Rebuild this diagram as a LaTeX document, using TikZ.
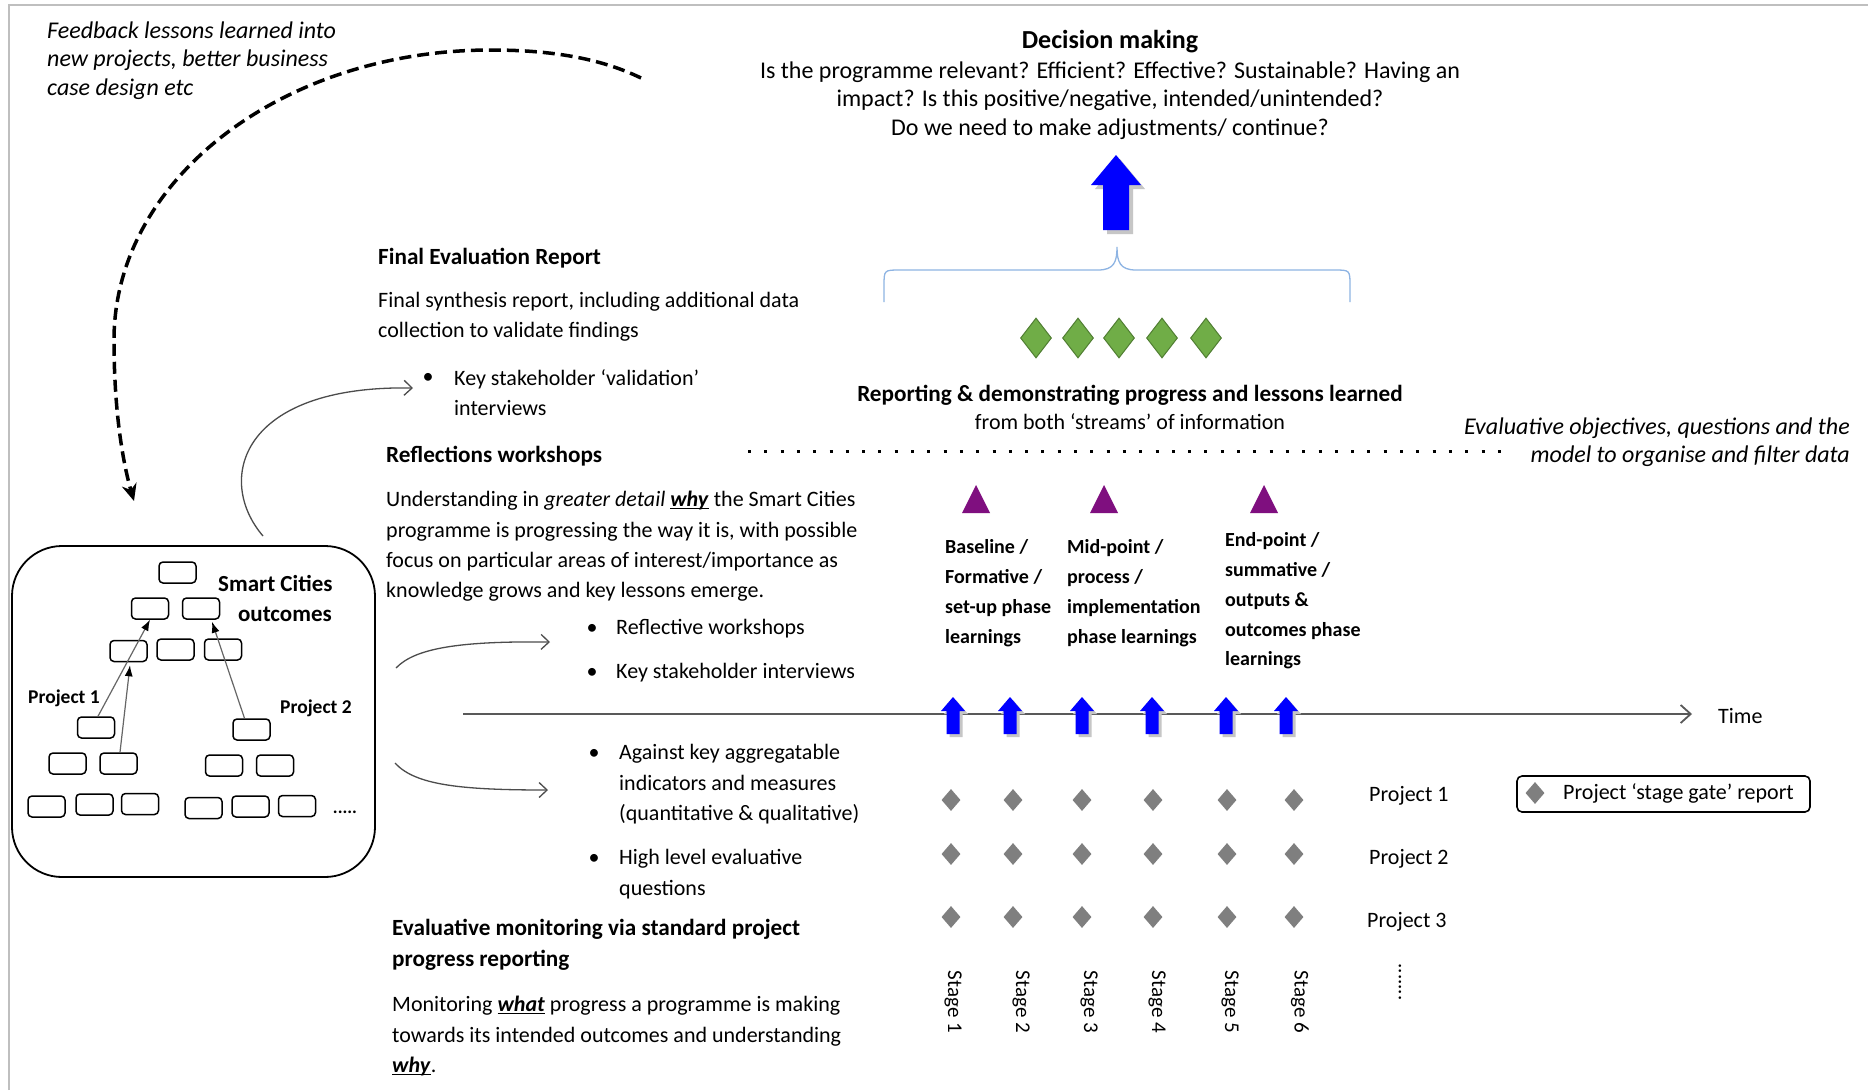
\documentclass[tikz,border=0pt]{standalone}
\usepackage{fontspec}
\setmainfont{Carlito}
\usetikzlibrary{arrows.meta,shapes.geometric,calc}
\definecolor{purp}{HTML}{7F0F7F}
\definecolor{gfill}{HTML}{70AD47}
\definecolor{gline}{HTML}{507E32}
\definecolor{brc}{HTML}{8EB4E3}
\definecolor{dgray}{HTML}{7F7F7F}
\definecolor{framecol}{HTML}{BFBFBF}
\newcommand\fsb{\fontsize{22}{30.5}\selectfont}
\newcommand\fshd{\fontsize{23.2}{31}\selectfont}
\newcommand\myul[1]{\setbox0\hbox{#1}\rlap{\rule[-2.5pt]{\wd0}{1.4pt}}\box0\relax}
\tikzset{
  txt/.style={inner sep=0pt, anchor=west, align=left, font=\fsb},
  hd/.style={inner sep=0pt, anchor=west, align=left, font=\bfseries\fshd},
  ph/.style={inner sep=0pt, anchor=west, align=left, font=\bfseries\fontsize{20}{29.8}\selectfont},
  sr/.style={draw, rounded corners=4pt, line width=1.5pt, minimum width=37pt, minimum height=21pt, inner sep=0pt},
  gdm/.style={diamond, fill=dgray, minimum width=19pt, minimum height=22pt, inner sep=0pt},
  grn/.style={diamond, fill=gfill, draw=gline, line width=1pt, minimum width=31pt, minimum height=40pt, inner sep=0pt},
  inarr/.style={draw=gray!80!black, line width=1.2pt, -{Latex[length=11pt,width=8pt,color=black]}},
  curv/.style={draw=black!70, line width=1.3pt, -{Straight Barb[length=8pt,width=15pt]}},
  bul/.style={inner sep=0pt, font=\fsb},
  stg/.style={inner sep=0pt, rotate=-90, font=\fontsize{21}{25}\selectfont},
}
\begin{document}
\begin{tikzpicture}[x=1pt,y=-1pt]
\useasboundingbox (0,0) rectangle (1868,1090);
\fill[white] (0,0) rectangle (1868,1090);
\draw[framecol, line width=2.5pt] (9,1090) -- (9,5) -- (1868,5);

% feedback text and dashed arc
\node[txt, font=\itshape\fontsize{24}{28.5}\selectfont] (feedback) at (47,60.5) {Feedback lessons learned into\\new projects, better business\\case design etc};
\coordinate (arcs) at (641,78);
\coordinate (arce) at (134,501);
\draw[line width=3.5pt, dash pattern=on 12pt off 6pt, -{Stealth[length=17pt,width=15pt]}] (arcs) .. controls (600,58) and (550,50) .. (491,50) .. controls (283,50) and (114,179) .. (114,340) .. controls (114,420) and (125,470) .. (arce);

% decision making
\node[inner sep=0pt, font=\bfseries\fontsize{26}{30}\selectfont] (dm) at (1110,42) {Decision making};
\node[inner sep=0pt, align=center, font=\fontsize{24}{28.5}\selectfont] (dq) at (1110,100.5) {Is the programme relevant? Efficient? Effective? Sustainable? Having an\\impact? Is this positive/negative, intended/unintended?\\Do we need to make adjustments/ continue?};

% big blue arrow
\fill[gray!45] (1120,159) -- (1145,189) -- (1133,189) -- (1133,234) -- (1107,234) -- (1107,189) -- (1095,189) -- cycle;
\fill[blue] (1116,155) -- (1141,185) -- (1129,185) -- (1129,230) -- (1103,230) -- (1103,185) -- (1091,185) -- cycle;

% brace
\draw[brc, line width=1.3pt] (884,302) -- (884,286) .. controls (884,270) .. (900,270) -- (1098,270) .. controls (1114,270) and (1117,262) .. (1117,247) .. controls (1117,262) and (1120,270) .. (1136,270) -- (1334,270) .. controls (1350,270) .. (1350,286) -- (1350,302);

% green diamonds
\foreach \x [count=\i] in {1036,1078,1119,1162,1206} { \node[grn] (gd\i) at (\x,338) {}; }

\node[inner sep=0pt, font=\bfseries\fshd] (rep) at (1130,395) {Reporting \& demonstrating progress and lessons learned};
\node[inner sep=0pt, font=\fsb] (rep2) at (1130,422) {from both ‘streams’ of information};

% dotted line
\draw[line width=3pt, dash pattern=on 3pt off 13.3pt] (748,451) -- (1507,451);
\node[inner sep=0pt, anchor=east, align=right, font=\itshape\fontsize{24}{28.5}\selectfont] (evo) at (1850,442) {Evaluative objectives, questions and the\\model to organise and filter data};

% purple triangles
\foreach \x in {976,1104,1264} { \fill[purp] (\x,485) -- (\x+14,513) -- (\x-14,513) -- cycle; }

% phase labels
\node[ph] (ph1) at (945,593) {Baseline /\\Formative /\\set-up phase\\learnings};
\node[ph] (ph2) at (1067,593) {Mid-point /\\process /\\implementation\\phase learnings};
\node[ph] (ph3) at (1225,601) {End-point /\\summative /\\outputs \&\\outcomes phase\\learnings};

% time axis
\coordinate (tl) at (463,714);
\coordinate (tr) at (1692,714);
\draw[gray!70!black, line width=1.8pt, -{Straight Barb[length=10pt,width=18pt]}] (tl) -- (tr);
\node[txt] (time) at (1718,716) {Time};

% small blue arrows
\foreach \x in {953,1010,1082,1152,1226,1286} {
  \fill[gray!45] (\x+3,700) -- (\x+15,714) -- (\x+9.5,714) -- (\x+9.5,737) -- (\x-3.5,737) -- (\x-3.5,714) -- (\x-9,714) -- cycle;
  \fill[blue] (\x,697) -- (\x+12,711) -- (\x+6.5,711) -- (\x+6.5,734) -- (\x-6.5,734) -- (\x-6.5,711) -- (\x-12,711) -- cycle;
}

% gray diamonds grid
\foreach \x [count=\i] in {951,1013,1082,1153,1227,1294} {
  \node[gdm] (pa\i) at (\x,800) {};
  \node[gdm] (pb\i) at (\x,854) {};
  \node[gdm] (pc\i) at (\x,917) {};
}
\node[txt] (proj1) at (1369,796) {Project 1};
\node[txt] (proj2) at (1369,859) {Project 2};
\node[txt] (proj3) at (1367,922) {Project 3};

% stage labels
\foreach \x [count=\i] in {953,1021,1089,1157,1230,1300} { \node[stg] (st\i) at (\x,1002) {Stage \i}; }
\node[stg] (vdots) at (1400,982) {.......};

% legend
\node[draw, rounded corners=5pt, line width=1.6pt, minimum width=293pt, minimum height=36pt, inner sep=0pt] (legend) at (1663.5,794) {};
\node[gdm] (legdia) at (1535,793) {};
\node[txt] (legtxt) at (1563,793) {Project ‘stage gate’ report};

% left box
\node[draw, rounded corners=50pt, line width=1.8pt, minimum width=363pt, minimum height=331pt, inner sep=0pt] (scbox) at (193.5,711.5) {};
\node[sr] (r0) at (177.5,572.5) {};
\node[sr] (r1a) at (150,608.5) {};
\node[sr] (r1b) at (201,608.5) {};
\node[sr] (r2a) at (128.5,651) {};
\node[sr] (r2b) at (175.5,649.5) {};
\node[sr] (r2c) at (223,649.5) {};
\node[sr] (r3a) at (96,727.5) {};
\node[sr] (r3b) at (251.5,729.5) {};
\node[sr] (r4a) at (67.5,763.5) {};
\node[sr] (r4b) at (118.5,763.5) {};
\node[sr] (r4c) at (224,765.5) {};
\node[sr] (r4d) at (275,765.5) {};
\node[sr] (r5a) at (46.5,806.5) {};
\node[sr] (r5b) at (94.5,804.5) {};
\node[sr] (r5c) at (140,804) {};
\node[sr] (r5d) at (203.5,808) {};
\node[sr] (r5e) at (250.5,806.5) {};
\node[sr] (r5f) at (297,806) {};
\node[inner sep=0pt, font=\bfseries\fontsize{18}{20}\selectfont] (bdots) at (345,812) {.....};
\node[inner sep=0pt, anchor=west, font=\bfseries\fontsize{23}{28}\selectfont] (sc1) at (218,583) {Smart Cities};
\node[inner sep=0pt, anchor=east, font=\bfseries\fontsize{23}{28}\selectfont] (sc2) at (332,614) {outcomes};
\node[inner sep=0pt, anchor=west, font=\bfseries\fontsize{19.5}{24}\selectfont] (bp1) at (28,698) {Project 1};
\node[inner sep=0pt, anchor=west, font=\bfseries\fontsize{19.5}{24}\selectfont] (bp2) at (280,708) {Project 2};
\draw[inarr] ([xshift=2pt]r3a.north) -- (r1a.south);
\draw[inarr] ([xshift=1.5pt]r4b.north) -- ([xshift=1.5pt,yshift=-3pt]r2a.south);
\draw[inarr] ([xshift=-7pt]r3b.north) -- ([xshift=11pt,yshift=-2pt]r1b.south);

% curved arrows
\coordinate (c1s) at (263,536);
\coordinate (c1e) at (413,388);
\draw[curv] (c1s) .. controls (215,480) and (240,385) .. (c1e);
\coordinate (c2s) at (396,668);
\coordinate (c2e) at (550,642);
\draw[curv] (c2s) .. controls (415,648) and (460,641) .. (c2e);
\coordinate (c3s) at (395,763);
\coordinate (c3e) at (548,790);
\draw[curv] (c3s) .. controls (415,785) and (460,790) .. (c3e);

% middle column texts
\node[hd] (feh) at (378,258) {Final Evaluation Report};
\node[txt, font=\fontsize{22}{30}\selectfont] (fet) at (378,317) {Final synthesis report, including additional data\\collection to validate findings};
\node[bul] (b1) at (428,378) {\textbullet};
\node[txt, font=\fontsize{22}{30}\selectfont] (b1t) at (454,393) {Key stakeholder ‘validation’\\interviews};
\node[hd] (rwh) at (386,456) {Reflections workshops};
\node[txt, font=\fontsize{22}{30.3}\selectfont] (rwt) at (386,546.5) {Understanding in \textit{greater detail} \myul{\textbf{\textit{why}}} the Smart Cities\\programme is progressing the way it is, with possible\\focus on particular areas of interest/importance as\\knowledge grows and key lessons emerge.};
\node[bul] (b2) at (592,629) {\textbullet};
\node[txt] (b2t) at (616,629) {Reflective workshops};
\node[bul] (b3) at (592,673) {\textbullet};
\node[txt] (b3t) at (616,673) {Key stakeholder interviews};
\node[bul] (b4) at (594,754) {\textbullet};
\node[txt] (b4t) at (619,784.5) {Against key aggregatable\\indicators and measures\\(quantitative \& qualitative)};
\node[bul] (b5) at (594,859) {\textbullet};
\node[txt] (b5t) at (619,874) {High level evaluative\\questions};
\node[hd] (emh) at (392,945) {Evaluative monitoring via standard project\\progress reporting};
\node[txt] (emt) at (392,1036) {Monitoring \myul{\textbf{\textit{what}}} progress a programme is making\\towards its intended outcomes and understanding\\\myul{\textbf{\textit{why}}}.};
\end{tikzpicture}
\end{document}
